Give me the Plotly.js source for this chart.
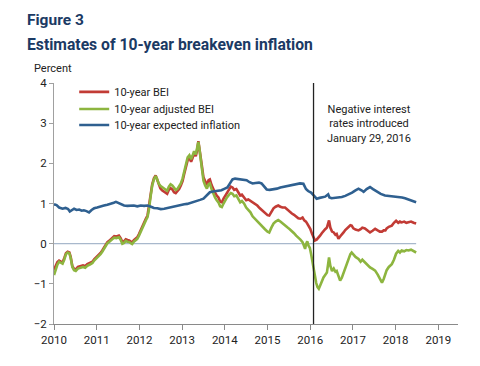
<!DOCTYPE html>
<html><head><meta charset="utf-8">
<script src="https://cdn.plot.ly/plotly-3.0.1.min.js"></script>
<style>html,body{margin:0;padding:0;background:#fff;}#chart{width:480px;height:366px;}</style>
</head><body><div id="chart"></div>
<script>
// Decimal-year dates and values
const redX = [2010.00,2010.04,2010.08,2010.12,2010.16,2010.20,2010.24,2010.28,2010.32,2010.36,2010.39,2010.43,2010.47,2010.51,2010.56,2010.62,2010.68,2010.73,2010.78,2010.84,2010.90,2010.94,2011.00,2011.05,2011.09,2011.13,2011.17,2011.21,2011.25,2011.29,2011.33,2011.37,2011.41,2011.46,2011.52,2011.56,2011.60,2011.64,2011.68,2011.72,2011.76,2011.80,2011.83,2011.87,2011.91,2011.95,2011.99,2012.03,2012.07,2012.11,2012.15,2012.19,2012.22,2012.26,2012.30,2012.34,2012.38,2012.41,2012.45,2012.49,2012.53,2012.57,2012.61,2012.65,2012.69,2012.73,2012.77,2012.81,2012.85,2012.89,2012.93,2012.97,2013.01,2013.05,2013.09,2013.13,2013.17,2013.21,2013.24,2013.28,2013.32,2013.35,2013.38,2013.40,2013.43,2013.46,2013.50,2013.54,2013.58,2013.62,2013.65,2013.69,2013.73,2013.77,2013.81,2013.85,2013.89,2013.93,2013.97,2014.01,2014.05,2014.10,2014.14,2014.18,2014.22,2014.27,2014.31,2014.36,2014.40,2014.45,2014.50,2014.55,2014.60,2014.65,2014.70,2014.76,2014.82,2014.88,2014.94,2015.00,2015.04,2015.09,2015.14,2015.19,2015.25,2015.30,2015.35,2015.41,2015.47,2015.52,2015.57,2015.62,2015.67,2015.72,2015.77,2015.82,2015.86,2015.90,2015.93,2015.97,2016.00,2016.04,2016.08,2016.11,2016.15,2016.19,2016.23,2016.27,2016.31,2016.35,2016.39,2016.42,2016.44,2016.47,2016.51,2016.55,2016.59,2016.62,2016.66,2016.70,2016.74,2016.78,2016.82,2016.86,2016.90,2016.94,2016.97,2017.01,2017.06,2017.13,2017.18,2017.22,2017.28,2017.34,2017.40,2017.46,2017.52,2017.58,2017.63,2017.68,2017.72,2017.76,2017.79,2017.84,2017.91,2017.96,2018.01,2018.06,2018.10,2018.14,2018.20,2018.25,2018.30,2018.36,2018.42,2018.48];
const redBEI = [-0.65,-0.55,-0.46,-0.42,-0.45,-0.47,-0.36,-0.24,-0.20,-0.22,-0.33,-0.56,-0.63,-0.64,-0.58,-0.56,-0.54,-0.56,-0.51,-0.48,-0.45,-0.39,-0.33,-0.27,-0.23,-0.17,-0.10,-0.05,0.04,0.07,0.11,0.16,0.19,0.18,0.20,0.14,0.04,0.06,0.11,0.09,0.08,0.05,0.03,0.09,0.12,0.16,0.24,0.34,0.45,0.54,0.62,0.70,0.88,1.20,1.48,1.63,1.70,1.62,1.47,1.38,1.33,1.30,1.26,1.24,1.34,1.38,1.35,1.28,1.26,1.30,1.36,1.45,1.56,1.74,1.92,2.08,2.14,2.04,2.12,2.25,2.18,2.32,2.55,2.42,2.14,1.96,1.65,1.53,1.46,1.58,1.60,1.46,1.35,1.27,1.20,1.15,1.05,1.03,1.12,1.20,1.28,1.36,1.42,1.40,1.34,1.36,1.28,1.20,1.22,1.16,1.08,1.10,1.06,1.02,1.00,0.95,0.88,0.82,0.76,0.71,0.70,0.80,0.88,0.92,0.95,0.92,0.90,0.90,0.84,0.80,0.75,0.72,0.68,0.63,0.62,0.65,0.58,0.55,0.50,0.42,0.37,0.25,0.15,0.08,0.10,0.14,0.20,0.26,0.32,0.36,0.40,0.55,0.58,0.40,0.30,0.28,0.22,0.24,0.12,0.18,0.22,0.28,0.34,0.38,0.44,0.46,0.45,0.38,0.35,0.33,0.36,0.40,0.38,0.33,0.28,0.32,0.37,0.33,0.30,0.30,0.33,0.33,0.38,0.42,0.45,0.52,0.57,0.52,0.55,0.53,0.55,0.52,0.54,0.55,0.52,0.50];

const greenX = [2010.00,2010.04,2010.08,2010.12,2010.16,2010.20,2010.24,2010.28,2010.32,2010.36,2010.39,2010.43,2010.47,2010.51,2010.56,2010.62,2010.68,2010.73,2010.78,2010.84,2010.90,2010.94,2011.00,2011.05,2011.09,2011.13,2011.17,2011.21,2011.25,2011.29,2011.33,2011.37,2011.41,2011.46,2011.52,2011.56,2011.60,2011.64,2011.68,2011.72,2011.76,2011.80,2011.83,2011.87,2011.91,2011.95,2011.99,2012.03,2012.07,2012.11,2012.15,2012.19,2012.22,2012.26,2012.30,2012.34,2012.38,2012.41,2012.45,2012.49,2012.53,2012.57,2012.61,2012.65,2012.69,2012.73,2012.77,2012.81,2012.85,2012.89,2012.93,2012.97,2013.01,2013.05,2013.09,2013.13,2013.17,2013.21,2013.24,2013.28,2013.32,2013.35,2013.38,2013.40,2013.43,2013.46,2013.50,2013.54,2013.58,2013.62,2013.65,2013.69,2013.73,2013.77,2013.81,2013.85,2013.89,2013.93,2013.97,2014.01,2014.05,2014.10,2014.14,2014.18,2014.22,2014.27,2014.31,2014.36,2014.40,2014.45,2014.50,2014.55,2014.60,2014.65,2014.70,2014.76,2014.82,2014.88,2014.94,2015.00,2015.04,2015.09,2015.14,2015.19,2015.25,2015.30,2015.35,2015.41,2015.47,2015.52,2015.57,2015.62,2015.67,2015.72,2015.77,2015.82,2015.86,2015.88,2015.90,2015.93,2015.96,2015.99,2016.02,2016.06,2016.09,2016.11,2016.14,2016.17,2016.20,2016.24,2016.28,2016.31,2016.35,2016.39,2016.42,2016.44,2016.47,2016.51,2016.55,2016.59,2016.62,2016.66,2016.70,2016.74,2016.78,2016.82,2016.86,2016.90,2016.94,2016.97,2017.01,2017.06,2017.13,2017.18,2017.22,2017.28,2017.34,2017.40,2017.46,2017.52,2017.58,2017.63,2017.68,2017.72,2017.76,2017.79,2017.84,2017.91,2017.96,2018.01,2018.06,2018.10,2018.14,2018.20,2018.25,2018.30,2018.36,2018.42,2018.48];
const greenAdjBEI = [-0.78,-0.62,-0.52,-0.45,-0.48,-0.50,-0.40,-0.26,-0.22,-0.24,-0.35,-0.58,-0.66,-0.68,-0.62,-0.60,-0.58,-0.60,-0.55,-0.52,-0.48,-0.42,-0.36,-0.30,-0.26,-0.20,-0.13,-0.08,0.01,0.04,0.07,0.12,0.15,0.14,0.16,0.10,0.00,0.02,0.07,0.05,0.04,0.01,-0.01,0.05,0.08,0.12,0.20,0.30,0.41,0.50,0.58,0.66,0.83,1.16,1.45,1.60,1.68,1.62,1.50,1.44,1.40,1.38,1.35,1.32,1.42,1.48,1.45,1.38,1.34,1.36,1.42,1.50,1.62,1.80,1.99,2.15,2.20,2.10,2.18,2.30,2.22,2.35,2.53,2.40,2.10,1.90,1.57,1.45,1.37,1.48,1.50,1.36,1.24,1.15,1.08,1.03,0.93,0.91,1.00,1.08,1.15,1.22,1.26,1.24,1.18,1.20,1.12,1.03,1.06,1.00,0.90,0.84,0.78,0.68,0.62,0.55,0.49,0.42,0.36,0.30,0.28,0.40,0.50,0.55,0.59,0.55,0.50,0.45,0.40,0.36,0.32,0.26,0.20,0.16,0.10,0.04,-0.05,-0.13,-0.02,0.06,-0.05,-0.10,-0.26,-0.50,-0.70,-0.84,-0.98,-1.08,-1.12,-1.02,-0.90,-0.84,-0.78,-0.72,-0.50,-0.34,-0.55,-0.68,-0.62,-0.70,-0.68,-0.80,-0.92,-0.85,-0.72,-0.62,-0.48,-0.35,-0.26,-0.22,-0.28,-0.33,-0.38,-0.45,-0.40,-0.47,-0.52,-0.59,-0.63,-0.67,-0.77,-0.88,-0.97,-0.88,-0.74,-0.66,-0.58,-0.51,-0.40,-0.25,-0.18,-0.22,-0.17,-0.19,-0.16,-0.17,-0.15,-0.19,-0.22];

const blueX = [2010.00,2010.06,2010.12,2010.20,2010.27,2010.33,2010.37,2010.41,2010.47,2010.53,2010.59,2010.65,2010.70,2010.76,2010.82,2010.88,2010.94,2011.01,2011.09,2011.17,2011.25,2011.33,2011.40,2011.45,2011.52,2011.58,2011.64,2011.72,2011.80,2011.87,2011.95,2012.03,2012.11,2012.19,2012.27,2012.34,2012.42,2012.50,2012.58,2012.66,2012.75,2012.83,2012.90,2012.97,2013.05,2013.12,2013.19,2013.27,2013.35,2013.42,2013.50,2013.58,2013.65,2013.72,2013.80,2013.86,2013.92,2014.00,2014.06,2014.12,2014.18,2014.24,2014.30,2014.36,2014.44,2014.51,2014.58,2014.65,2014.72,2014.80,2014.86,2014.93,2014.98,2015.05,2015.13,2015.22,2015.30,2015.38,2015.45,2015.52,2015.60,2015.68,2015.76,2015.84,2015.90,2015.95,2016.02,2016.08,2016.15,2016.22,2016.27,2016.35,2016.42,2016.45,2016.50,2016.58,2016.66,2016.74,2016.82,2016.90,2016.98,2017.05,2017.13,2017.20,2017.25,2017.32,2017.40,2017.47,2017.56,2017.65,2017.75,2017.85,2017.93,2017.99,2018.08,2018.15,2018.22,2018.30,2018.38,2018.48];
const blueExpInfl = [0.98,0.96,0.90,0.87,0.89,0.86,0.80,0.83,0.87,0.84,0.85,0.82,0.83,0.81,0.78,0.84,0.88,0.90,0.93,0.95,0.97,0.99,1.02,1.04,1.00,0.97,0.95,0.94,0.95,0.95,0.93,0.95,0.94,0.95,0.92,0.89,0.88,0.86,0.87,0.89,0.92,0.93,0.95,0.96,0.98,0.99,1.01,1.03,1.06,1.09,1.12,1.20,1.28,1.30,1.31,1.32,1.33,1.37,1.40,1.50,1.60,1.62,1.61,1.60,1.58,1.58,1.53,1.50,1.51,1.52,1.50,1.42,1.35,1.34,1.35,1.37,1.40,1.42,1.43,1.45,1.47,1.48,1.50,1.49,1.36,1.31,1.27,1.20,1.12,1.14,1.15,1.17,1.23,1.15,1.13,1.14,1.15,1.16,1.19,1.22,1.27,1.32,1.37,1.33,1.29,1.36,1.41,1.36,1.29,1.24,1.20,1.19,1.18,1.17,1.16,1.15,1.13,1.10,1.08,1.03];

const seriesNames = ['10-year BEI', '10-year adjusted BEI', '10-year expected inflation'];
const yearTicks = [2010, 2011, 2012, 2013, 2014, 2015, 2016, 2017, 2018, 2019];
const yTicks = [-2, -1, 0, 1, 2, 3, 4];
const policyDate = 2016.077; // January 29, 2016
const dataEnd = 2018.48;

const FONT = 'Roboto, "Liberation Sans", Arial, sans-serif';
const NAVY = '#1b3a64';

const traces = [
  {x: redX, y: redBEI, name: seriesNames[0], type: 'scatter', mode: 'lines', legend: 'legend',
   line: {color: '#c23b35', width: 2.6}},
  {x: greenX, y: greenAdjBEI, name: seriesNames[1], type: 'scatter', mode: 'lines', legend: 'legend2',
   line: {color: '#8db53f', width: 2.6}},
  {x: blueX, y: blueExpInfl, name: seriesNames[2], type: 'scatter', mode: 'lines', legend: 'legend3',
   line: {color: '#2f6090', width: 2.6}}
];

function leg(yv) {
  return {x: 0.05, xanchor: 'left', y: yv, yanchor: 'middle', bgcolor: 'rgba(0,0,0,0)',
          font: {family: FONT, size: 11, color: '#222'}, itemwidth: 30};
}

const layout = {
  width: 480, height: 366,
  margin: {l: 54, r: 22, t: 83, b: 42},
  paper_bgcolor: '#fff', plot_bgcolor: '#fff',
  font: {family: FONT, size: 11.5, color: '#222'},
  showlegend: true,
  legend: leg(0.963),
  legend2: leg(0.892),
  legend3: leg(0.826),
  xaxis: {range: [2010, 2019.46], tickvals: yearTicks, ticktext: yearTicks.map(String),
          showgrid: false, zeroline: false, showline: true, linecolor: '#8a8a8a', linewidth: 1,
          ticks: 'outside', ticklen: 5, tickcolor: '#8a8a8a', tickfont: {size: 11.5, color: '#222'}},
  yaxis: {range: [-2, 4], tickvals: yTicks, showgrid: false, zeroline: false,
          showline: true, linecolor: '#a0a0a0', linewidth: 1, ticks: 'outside', ticklen: 4,
          tickcolor: '#a0a0a0', tickfont: {size: 11.5, color: '#222'}},
  shapes: [
    {type: 'line', xref: 'x', yref: 'y', x0: 2010, x1: dataEnd, y0: 0, y1: 0,
     line: {color: '#a8b8cc', width: 1.2}, layer: 'below'},
    {type: 'line', xref: 'x', yref: 'paper', x0: policyDate, x1: policyDate, y0: 0, y1: 1,
     line: {color: '#222', width: 1.3}}
  ],
  annotations: [
    {text: '<b>Figure 3</b>', xref: 'paper', yref: 'paper', x: -0.072, y: 1.262,
     xanchor: 'left', yanchor: 'middle', showarrow: false,
     font: {family: FONT, size: 15.5, color: NAVY}},
    {text: '<b>Estimates of 10-year breakeven inflation</b>', xref: 'paper', yref: 'paper',
     x: -0.072, y: 1.158, xanchor: 'left', yanchor: 'middle', showarrow: false,
     font: {family: FONT, size: 15.7, color: NAVY}},
    {text: 'Percent', xref: 'paper', yref: 'paper', x: -0.055, y: 1.062,
     xanchor: 'left', yanchor: 'middle', showarrow: false,
     font: {family: FONT, size: 11, color: '#222'}},
    {text: 'Negative interest<br>rates introduced<br>January 29, 2016', xref: 'paper', yref: 'paper',
     x: 0.78, y: 0.828, xanchor: 'center', yanchor: 'middle', showarrow: false, align: 'center',
     font: {family: FONT, size: 11, color: '#222'}}
  ]
};

Plotly.newPlot('chart', traces, layout, {displayModeBar: false, staticPlot: true});
</script>
</body></html>
